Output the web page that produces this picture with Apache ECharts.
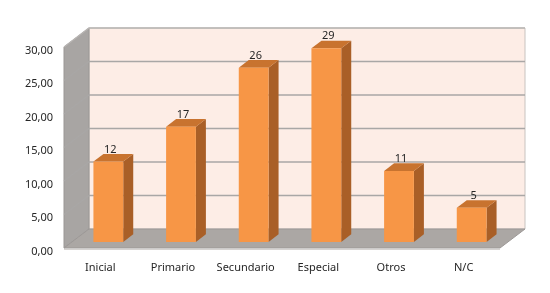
<!DOCTYPE html>
<html>
<head>
<meta charset="utf-8">
<script src="https://cdn.jsdelivr.net/npm/echarts@6/dist/echarts.min.js"></script>
<style>html,body{margin:0;padding:0;background:#fff}#c{width:550px;height:293px}</style>
</head>
<body>
<div id="c"></div>
<script>
var categories = ['Inicial', 'Primario', 'Secundario', 'Especial', 'Otros', 'N/C'];
var values = [12, 17.2, 26, 28.9, 10.6, 5.1];
var yTicks = [0, 5, 10, 15, 20, 25, 30];

var DX = 25, DY = -19;          // depth of the box
var BF = 0.32;                  // bar front plane position (fraction of depth)
var BD = 0.40;                  // bar depth (fraction)
var FONT = 'Noto Sans';

var chart = echarts.init(document.getElementById('c'), null, {renderer: 'canvas'});

function wallsRender(params, api) {
  var bw = api.size([1, 0])[0];
  var n = categories.length;
  var p0 = api.coord([0, 0]);
  var xl = p0[0] - bw / 2;
  var xr = xl + bw * n;
  var yb = p0[1];
  var yt = api.coord([0, yTicks[yTicks.length - 1]])[1];
  var ch = [];
  ch.push({type: 'polygon', shape: {points: [[xl + DX, yt + DY], [xr + DX, yt + DY], [xr + DX, yb + DY], [xl + DX, yb + DY]]},
    style: {fill: '#fdede6', stroke: '#c8c3c0', lineWidth: 1}});
  ch.push({type: 'polygon', shape: {points: [[xl, yb], [xl, yt], [xl + DX, yt + DY], [xl + DX, yb + DY]]},
    style: {fill: '#a8a5a3', stroke: '#9a9795', lineWidth: 1}});
  yTicks.forEach(function (t) {
    var y = api.coord([0, t])[1];
    if (t > 0) {
      ch.push({type: 'polyline', shape: {points: [[xl, y], [xl + DX, y + DY], [xr + DX, y + DY]]},
        style: {stroke: t === yTicks[yTicks.length - 1] ? '#b8b5b3' : '#a9a7a6', lineWidth: 1.3, fill: null}});
    }
  });
  ch.push({type: 'polygon', shape: {points: [[xl, yb], [xr, yb], [xr + DX, yb + DY], [xl + DX, yb + DY]]},
    style: {fill: '#aba7a4', stroke: '#9c9896', lineWidth: 1}});
  ch.push({type: 'line', shape: {x1: xl, y1: yb + 1.5, x2: xr, y2: yb + 1.5}, style: {stroke: '#d6d3d1', lineWidth: 1}});
  return {type: 'group', children: ch};
}

function barRender(params, api) {
  var cat = api.value(0), v = api.value(1);
  var bw = api.size([1, 0])[0];
  var w = bw * 0.41;
  var base = api.coord([cat, 0]);
  var top = api.coord([cat, v]);
  var ox = DX * BF, oy = DY * BF;
  var dx = DX * BD, dy = DY * BD;
  var x0 = base[0] - w / 2 + ox, x1 = base[0] + w / 2 + ox;
  var yb = base[1] + oy, yt = top[1] + oy;
  var ch = [];
  ch.push({type: 'polygon', shape: {points: [[x1, yb], [x1, yt], [x1 + dx, yt + dy], [x1 + dx, yb + dy]]},
    style: {fill: '#a95f27'}});
  ch.push({type: 'polygon', shape: {points: [[x0, yt], [x1, yt], [x1 + dx, yt + dy], [x0 + dx, yt + dy]]},
    style: {fill: '#c8732f'}});
  ch.push({type: 'rect', shape: {x: x0, y: yt, width: w, height: yb - yt},
    style: {fill: '#f79646'}});
  ch.push({type: 'text', style: {text: String(Math.round(v)), x: (x0 + x1) / 2 + 2, y: yt + dy + 1,
    textAlign: 'center', textVerticalAlign: 'bottom', fill: '#262626', font: '11px "' + FONT + '"'}});
  return {type: 'group', children: ch};
}

var option = {
  animation: false,
  grid: {left: 64, right: 50, top: 47, bottom: 45, containLabel: false},
  xAxis: {
    type: 'category', data: categories,
    axisLine: {show: false}, axisTick: {show: false},
    axisLabel: {color: '#262626', fontFamily: FONT, fontSize: 11, margin: 14, interval: 0}
  },
  yAxis: {
    type: 'value', min: 0, max: 30, interval: 5,
    axisLine: {show: false}, axisTick: {show: false}, splitLine: {show: false},
    axisLabel: {color: '#262626', fontFamily: FONT, fontSize: 11, margin: 11,
      verticalAlign: 'top', lineHeight: 7,
      formatter: function (v) { return v.toFixed(2).replace('.', ','); }}
  },
  series: [
    {type: 'custom', renderItem: wallsRender, data: [[0, 0]], clip: false, silent: true, z: 1},
    {type: 'custom', renderItem: barRender, data: values.map(function (v, i) { return [i, v]; }), clip: false, z: 2}
  ]
};
chart.setOption(option);
</script>
</body>
</html>
